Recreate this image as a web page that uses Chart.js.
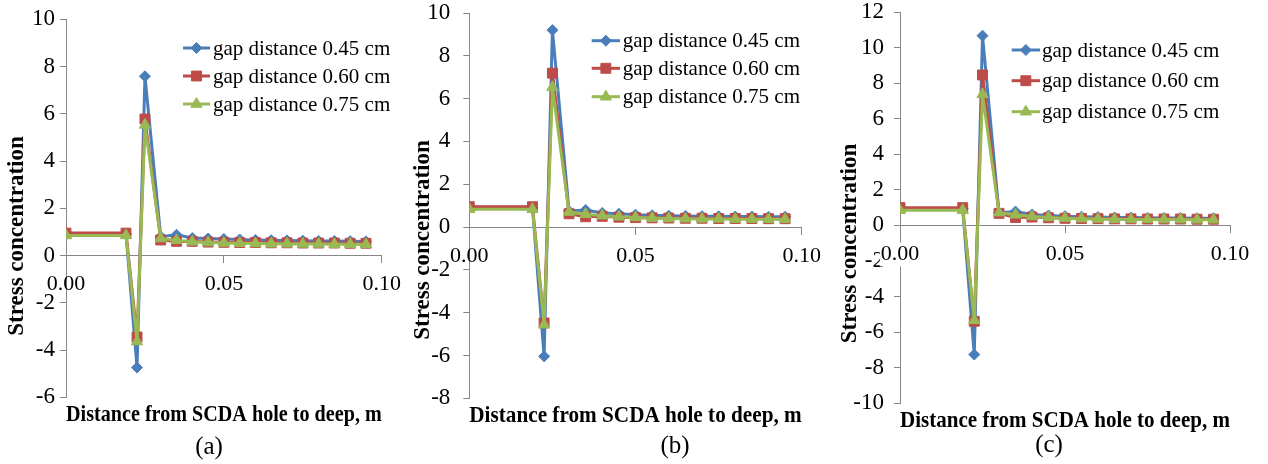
<!DOCTYPE html>
<html><head><meta charset="utf-8">
<script src="https://cdn.jsdelivr.net/npm/chart.js@4.4.1/dist/chart.umd.min.js"></script>
<style>
html,body{margin:0;padding:0;background:#fff;width:1268px;height:464px;overflow:hidden;}
canvas{position:absolute;top:0;}
</style></head><body>
<canvas id="ca" width="412" height="464" style="left:0px"></canvas>
<canvas id="cb" width="420" height="464" style="left:412px"></canvas>
<canvas id="cc" width="436" height="464" style="left:832px"></canvas>
<script>
// ---- data ----
const xValues = [0, 0.019, 0.0225, 0.025, 0.030, 0.035, 0.040, 0.045, 0.050, 0.055, 0.060, 0.065, 0.070, 0.075, 0.080, 0.085, 0.090, 0.095];
const seriesNames = ['gap distance 0.45 cm', 'gap distance 0.60 cm', 'gap distance 0.75 cm'];
const xTickLabels = ['0.00', '0.05', '0.10'];
const xTitle = 'Distance from SCDA hole to deep, m';
const yTitle = 'Stress concentration';
const captions = ['(a)', '(b)', '(c)'];

const aGap045 = [0.92, 0.92, -4.74, 7.59, 0.80, 0.88, 0.74, 0.72, 0.70, 0.68, 0.66, 0.65, 0.64, 0.63, 0.62, 0.62, 0.61, 0.60];
const aGap060 = [0.95, 0.95, -3.45, 5.78, 0.66, 0.60, 0.60, 0.57, 0.56, 0.55, 0.55, 0.54, 0.54, 0.53, 0.53, 0.53, 0.52, 0.52];
const aGap075 = [0.85, 0.85, -3.64, 5.53, 0.72, 0.65, 0.58, 0.55, 0.53, 0.52, 0.51, 0.50, 0.50, 0.49, 0.49, 0.48, 0.48, 0.47];

const bGap045 = [0.93, 0.93, -6.04, 9.20, 0.75, 0.80, 0.66, 0.62, 0.58, 0.55, 0.53, 0.52, 0.51, 0.50, 0.49, 0.49, 0.48, 0.48];
const bGap060 = [0.95, 0.95, -4.48, 7.19, 0.62, 0.48, 0.50, 0.46, 0.44, 0.43, 0.42, 0.41, 0.41, 0.40, 0.40, 0.40, 0.39, 0.39];
const bGap075 = [0.83, 0.83, -4.56, 6.53, 0.70, 0.60, 0.53, 0.48, 0.45, 0.42, 0.40, 0.39, 0.38, 0.38, 0.37, 0.37, 0.36, 0.36];

const cGap045 = [0.95, 0.95, -7.26, 10.67, 0.72, 0.78, 0.62, 0.56, 0.52, 0.49, 0.47, 0.45, 0.44, 0.43, 0.42, 0.42, 0.41, 0.41];
const cGap060 = [1.00, 1.00, -5.39, 8.46, 0.68, 0.45, 0.47, 0.43, 0.40, 0.39, 0.38, 0.37, 0.37, 0.36, 0.36, 0.36, 0.35, 0.35];
const cGap075 = [0.86, 0.86, -5.33, 7.37, 0.72, 0.60, 0.50, 0.45, 0.41, 0.38, 0.36, 0.35, 0.34, 0.34, 0.33, 0.33, 0.32, 0.32];

const yRangeA = [-6, 10];
const yRangeB = [-8, 10];
const yRangeC = [-10, 12];
const yStep = 2;
const xRange = [0, 0.1];
const xStep = 0.05;

// ---- styles ----
const FONT = "'Liberation Serif', 'Times New Roman', serif";
const AXIS_GRAY = '#868686';
const seriesColors = ['#4A7EBB', '#BE4B48', '#98B954'];
const seriesPointStyles = ['rectRot', 'rect', 'triangle'];
const seriesPointRadius = [5.5, 7, 6.5];

function drawMarker(ctx, style, x, y, r, color) {
  ctx.save();
  ctx.fillStyle = color; ctx.strokeStyle = color; ctx.lineWidth = 1;
  ctx.beginPath();
  if (style === 'rectRot') {
    ctx.moveTo(x, y - r); ctx.lineTo(x + r, y); ctx.lineTo(x, y + r); ctx.lineTo(x - r, y);
  } else if (style === 'rect') {
    const s = r * Math.SQRT1_2; ctx.rect(x - s, y - s, 2 * s, 2 * s);
  } else {
    const a = 2 * Math.PI / 3;
    ctx.moveTo(x, y - r);
    ctx.lineTo(x + r * Math.sin(a), y - r * Math.cos(a));
    ctx.lineTo(x + r * Math.sin(2 * a), y - r * Math.cos(2 * a));
  }
  ctx.closePath(); ctx.fill(); ctx.stroke();
  ctx.restore();
}

function extrasPlugin(p) {
  return {
    id: 'extras',
    afterDraw(chart) {
      const ctx = chart.ctx;
      ctx.save();
      ctx.translate(p.yTitlePos[0], p.yTitlePos[1]);
      ctx.rotate(-Math.PI / 2);
      ctx.font = 'bold 23px ' + FONT;
      ctx.fillStyle = '#000';
      ctx.textAlign = 'center';
      ctx.textBaseline = 'middle';
      ctx.fillText(yTitle, 0, 0);
      ctx.restore();
      ctx.save();
      ctx.font = '25px ' + FONT;
      ctx.fillStyle = '#000';
      ctx.textAlign = 'center';
      ctx.textBaseline = 'middle';
      ctx.fillText(p.caption, p.capPos[0], p.capPos[1]);
      ctx.restore();
      ctx.save();
      chart.data.datasets.forEach((ds, i) => {
        const y = p.legend.ys[i];
        ctx.strokeStyle = ds.borderColor;
        ctx.lineWidth = 3;
        ctx.beginPath(); ctx.moveTo(p.legend.x0, y); ctx.lineTo(p.legend.x1, y); ctx.stroke();
        drawMarker(ctx, ds.pointStyle, (p.legend.x0 + p.legend.x1) / 2, y, ds.pointRadius, ds.borderColor);
        ctx.font = '21px ' + FONT;
        ctx.fillStyle = '#000';
        ctx.textAlign = 'left';
        ctx.textBaseline = 'middle';
        ctx.fillText(ds.label, p.legend.tx, y + 1);
      });
      ctx.restore();
    }
  };
}

const panels = [
  { id: 'ca', series: [aGap045, aGap060, aGap075], yRange: yRangeA, caption: captions[0], width: 412, backdrop: false, yPad: 5,
    area: { left: 66, right: 391, top: 19.3, bottom: 397.3 },
    legend: { x0: 183, x1: 210, tx: 213, ys: [48, 76, 104] }, yTitlePos: [17, 236], capPos: [209, 447] },
  { id: 'cb', series: [bGap045, bGap060, bGap075], yRange: yRangeB, caption: captions[1], width: 420, backdrop: false, yPad: 13,
    area: { left: 57.3, right: 395.7, top: 13, bottom: 398.3 },
    legend: { x0: 179.7, x1: 208, tx: 210.7, ys: [40.7, 68.3, 96.7] }, yTitlePos: [10.7, 240], capPos: [263, 446] },
  { id: 'cc', series: [cGap045, cGap060, cGap075], yRange: yRangeC, caption: captions[2], width: 436, backdrop: true, yPad: 10,
    area: { left: 68, right: 398, top: 12, bottom: 403.3 },
    legend: { x0: 179.7, x1: 208, tx: 210, ys: [50, 80.7, 111.7] }, yTitlePos: [18, 243.5], capPos: [217, 445] }
];

const TITLE_PAD_TOP = 4;
const TITLE_FONT_SIZE = 23;

panels.forEach(p => {
  const datasets = p.series.map((vals, i) => ({
    label: seriesNames[i],
    data: xValues.map((x, k) => ({ x: x, y: vals[k] })),
    borderColor: seriesColors[i],
    backgroundColor: seriesColors[i],
    borderWidth: 3,
    pointStyle: seriesPointStyles[i],
    pointRadius: seriesPointRadius[i],
    pointBorderWidth: 1,
    pointHoverRadius: seriesPointRadius[i],
    tension: 0,
    order: 2 - i
  }));
  const titleH = TITLE_PAD_TOP + TITLE_FONT_SIZE * 1.2;
  new Chart(document.getElementById(p.id), {
    type: 'line',
    data: { datasets },
    options: {
      responsive: false,
      animation: false,
      events: [],
      layout: { padding: { left: 0, top: p.area.top, right: p.width - p.area.right, bottom: 464 - p.area.bottom - titleH } },
      plugins: {
        legend: { display: false },
        tooltip: { enabled: false },
        title: {
          display: true, text: xTitle, position: 'bottom', fullSize: false, color: '#000',
          font: { family: FONT, size: TITLE_FONT_SIZE, weight: 'bold', lineHeight: 1.2 },
          padding: { top: TITLE_PAD_TOP, bottom: 0 }
        }
      },
      scales: {
        y: {
          type: 'linear', position: 'left', min: p.yRange[0], max: p.yRange[1],
          afterFit: s => { s.width = p.area.left; s.paddingTop = 0; s.paddingBottom = 0; },
          border: { display: true, color: AXIS_GRAY, width: 1 },
          grid: { display: true, drawOnChartArea: false, drawTicks: true, tickLength: 6, color: AXIS_GRAY },
          ticks: { stepSize: yStep, color: '#000', padding: p.yPad, font: { family: FONT, size: 23, lineHeight: 1 },
                   callback: v => String(v) },
          title: { display: false }
        },
        x: {
          type: 'linear', position: { y: 0 }, min: xRange[0], max: xRange[1],
          afterFit: s => { s.height = 0; },
          border: { display: true, color: AXIS_GRAY, width: 1 },
          grid: { display: true, drawOnChartArea: false, drawTicks: true, tickLength: 7, color: AXIS_GRAY },
          ticks: { stepSize: xStep, color: '#000', padding: 11, z: 1, maxRotation: 0, autoSkip: false,
                   font: { family: FONT, size: 22, lineHeight: 1 },
                   showLabelBackdrop: p.backdrop, backdropColor: '#ffffff', backdropPadding: 1,
                   callback: v => xTickLabels[Math.round(v / xStep)] },
          title: { display: false }
        }
      }
    },
    plugins: [extrasPlugin(p)]
  });
});
</script>
</body></html>
